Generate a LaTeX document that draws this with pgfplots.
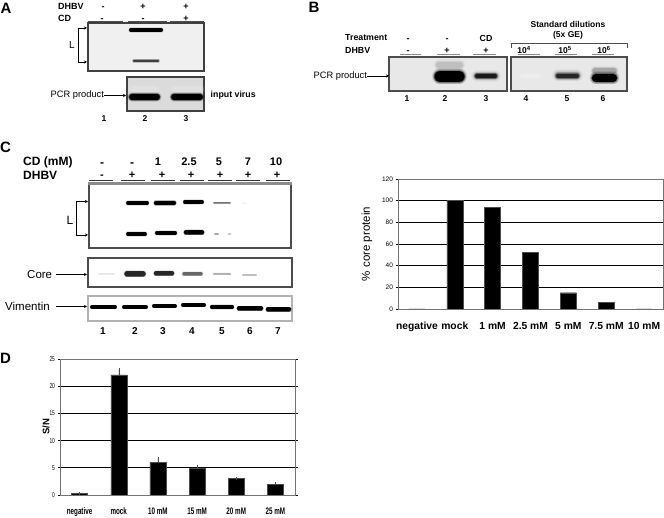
\documentclass[border=0pt]{standalone}
\usepackage{fontspec}
\setmainfont{Liberation Sans}
\usepackage{graphicx}
\usepackage{pgfplots}
\pgfplotsset{compat=1.18}
\usetikzlibrary{arrows.meta}

\newcommand{\fs}[1]{\fontsize{#1}{#1}\selectfont}
% all of the gel panels sit on one hidden axis, in reference pixels
\newcommand{\gel}[6]{% x1 y1 x2 y2 fill border
  \addplot[fill=#5,draw=#6,line width=1.1pt,forget plot] coordinates {(#1,#2)(#3,#2)(#3,#4)(#1,#4)} -- cycle;}
\newcommand{\seg}[5]{% x1 x2 y width colour
  \addplot[draw=#5,line width=#4pt,forget plot] coordinates {(#1,#3)(#2,#3)};}
\newcommand{\band}[6]{% x1 x2 y thick colour halo
  \addplot[draw=#5,opacity=.1,line width=#4pt+#6pt,line cap=round,forget plot] coordinates {(#1,#3)(#2,#3)};
  \addplot[draw=#5,opacity=.18,line width=#4pt+.7*#6pt,line cap=round,forget plot] coordinates {(#1,#3)(#2,#3)};
  \addplot[draw=#5,opacity=.3,line width=#4pt+.4*#6pt,line cap=round,forget plot] coordinates {(#1,#3)(#2,#3)};
  \addplot[draw=#5,opacity=.5,line width=#4pt+.15*#6pt,line cap=round,forget plot] coordinates {(#1,#3)(#2,#3)};
  \addplot[draw=#5,line width=#4pt,line cap=round,forget plot] coordinates {(#1,#3)(#2,#3)};}
\newcommand{\arr}[3]{% x1 x2 y
  \addplot[draw=black,line width=.6pt,-{Stealth[length=3pt,width=3pt]},forget plot] coordinates {(#1,#3)(#2,#3)};}
\newcommand{\lab}[3]{\node[inner sep=0pt,anchor=center] at (axis cs:#1,#2) {#3\vphantom{0}};}
\newcommand{\labl}[3]{\node[inner sep=0pt,anchor=west] at (axis cs:#1,#2) {#3};}

\begin{document}
\begin{tikzpicture}

\begin{axis}[
  at={(0pt,0pt)}, anchor=south west, scale only axis,
  width=664pt, height=518pt,
  xmin=0, xmax=664, ymin=0, ymax=518, y dir=reverse,
  hide axis, clip=false,
]

  % panel A
  \lab{6}{8}{\fs{15}\bfseries A}
  \labl{58}{6.5}{\fs{9}\bfseries DHBV}
  \labl{58}{18}{\fs{9}\bfseries CD}
  \lab{103}{6.5}{\fs{9}\bfseries -}
  \lab{143}{6.5}{\fs{9}\bfseries +}
  \lab{186}{6.5}{\fs{9}\bfseries +}
  \lab{102}{18}{\fs{9}\bfseries -}
  \lab{143}{18}{\fs{9}\bfseries -}
  \lab{186}{18}{\fs{9}\bfseries +}
  \seg{88}{123}{21}{.8}{black!70}
  \seg{128}{167}{21}{.8}{black!70}
  \seg{170}{204}{21}{.8}{black!70}
  \gel{88}{23}{204}{71}{black!6}{black!75}
  \band{131}{161}{30}{3.5}{black}{2}
  \band{134}{158}{61}{2}{black!75}{2.5}
  \addplot[draw=black,line width=.6pt,{Stealth[length=3pt,width=3pt]}-{Stealth[length=3pt,width=3pt]},forget plot]
    coordinates {(87,28)(78,28)(78,62)(87,62)};
  \lab{72}{45}{\fs{10}L}
  \gel{127}{77}{204}{111}{black!14}{black!75}
  \band{133}{156}{89}{6}{black!12}{5}
  \band{175}{199}{89}{6}{black!12}{5}
  \band{132}{157}{97}{5.5}{black}{4}
  \band{174}{200}{97}{5.5}{black}{4}
  \labl{50.5}{95.5}{\fs{9.3}PCR product}
  \arr{104}{126}{95.5}
  \labl{210.5}{95.5}{\fs{8.8}\bfseries input virus}
  \lab{104}{119}{\fs{8.5}\bfseries 1}
  \lab{145}{119}{\fs{8.5}\bfseries 2}
  \lab{186}{119}{\fs{8.5}\bfseries 3}

  % panel B
  \lab{314}{7}{\fs{15}\bfseries B}
  \labl{345}{38}{\fs{8.8}\bfseries Treatment}
  \labl{345}{50}{\fs{8.8}\bfseries DHBV}
  \lab{408}{38}{\fs{9}\bfseries -}
  \lab{447}{38}{\fs{9}\bfseries -}
  \lab{486}{38}{\fs{8.8}\bfseries CD}
  \lab{408}{50}{\fs{9}\bfseries -}
  \lab{447}{50}{\fs{9}\bfseries +}
  \lab{486}{50}{\fs{9}\bfseries +}
  \lab{568}{24}{\fs{8.5}\bfseries Standard dilutions}
  \lab{568}{35.5}{\fs{8.5}\bfseries (5x GE)}
  \addplot[draw=black!70,line width=.7pt,forget plot] coordinates {(511,48)(511,43)(627,43)(627,48)};
  \lab{524}{50}{\fs{8.5}\bfseries 10\textsuperscript{4}}
  \lab{565}{50}{\fs{8.5}\bfseries 10\textsuperscript{5}}
  \lab{604}{50}{\fs{8.5}\bfseries 10\textsuperscript{6}}
  \seg{400}{421}{54.5}{1.4}{black!45}
  \seg{437}{460}{54.5}{1.4}{black!45}
  \seg{473}{496}{54.5}{1.4}{black!45}
  \seg{518}{540}{54.5}{1.4}{black!45}
  \seg{555}{577}{54.5}{1.4}{black!45}
  \seg{592}{614}{54.5}{1.4}{black!45}
  \gel{389}{57}{507}{91}{black!9}{black!70}
  \gel{511}{57}{627}{91}{black!9}{black!70}
  \band{439}{460}{65}{6}{black!25}{5}
  \band{440}{459}{76.5}{11}{black}{5}
  \band{477}{495}{76}{6}{black!35}{6}
  \band{477}{495}{76}{3.5}{black!90}{4}
  \band{522}{539}{76}{4}{black!7}{5}
  \band{558}{577}{75.5}{6}{black!35}{6}
  \band{558}{577}{76}{3.5}{black!85}{4}
  \band{595}{614}{71}{5}{black!35}{5}
  \band{596}{613}{78}{8}{black}{5}
  \labl{313.5}{76}{\fs{9.3}PCR product}
  \arr{367}{389}{76}
  \lab{407}{99}{\fs{8.5}\bfseries 1}
  \lab{445}{99}{\fs{8.5}\bfseries 2}
  \lab{486}{99}{\fs{8.5}\bfseries 3}
  \lab{526}{99}{\fs{8.5}\bfseries 4}
  \lab{567}{99}{\fs{8.5}\bfseries 5}
  \lab{603}{99}{\fs{8.5}\bfseries 6}

  % panel C, blots
  \lab{5.5}{147}{\fs{15}\bfseries C}
  \labl{23}{162}{\fs{12}\bfseries CD (mM)}
  \labl{23}{175.5}{\fs{12}\bfseries DHBV}
  \lab{102}{162}{\fs{12}\bfseries -}
  \lab{132}{162}{\fs{12}\bfseries -}
  \lab{158}{162}{\fs{11}\bfseries 1}
  \lab{189}{162}{\fs{11}\bfseries 2.5}
  \lab{219}{162}{\fs{11}\bfseries 5}
  \lab{248}{162}{\fs{11}\bfseries 7}
  \lab{276}{162}{\fs{11}\bfseries 10}
  \lab{102}{175}{\fs{11}\bfseries -}
  \lab{132}{175}{\fs{11}\bfseries +}
  \lab{162}{175}{\fs{11}\bfseries +}
  \lab{191}{175}{\fs{11}\bfseries +}
  \lab{220}{175}{\fs{11}\bfseries +}
  \lab{248}{175}{\fs{11}\bfseries +}
  \lab{277}{175}{\fs{11}\bfseries +}
  \seg{89}{113}{180}{.8}{black!80}
  \seg{121}{145}{180}{.8}{black!80}
  \seg{151}{175}{180}{.8}{black!80}
  \seg{180}{204}{180}{.8}{black!80}
  \seg{208}{232}{180}{.8}{black!80}
  \seg{236}{260}{180}{.8}{black!80}
  \seg{266}{290}{180}{.8}{black!80}
  \gel{89}{183}{291}{248}{white}{black!70}
  \seg{88}{292}{183.5}{2.4}{black!45}
  \band{128}{147}{203}{3.3}{black}{2}
  \band{156}{174}{203}{3.8}{black}{2}
  \band{185}{202}{202}{3.3}{black}{2}
  \band{214}{230}{203}{1}{black!55}{1.5}
  \band{243}{246}{203}{.5}{black!8}{.5}
  \band{128}{145}{234}{3.3}{black}{2}
  \band{157}{175}{233}{3.5}{black}{2}
  \band{186}{202}{232.5}{4}{black}{2}
  \band{215}{218}{234}{1.2}{black!35}{1}
  \band{228.5}{230.5}{234}{1.2}{black!20}{1}
  \gel{88}{258}{292}{287}{white}{black!70}
  \band{99}{114}{274}{1}{black!10}{1}
  \band{127}{143}{274}{5}{black!85}{2}
  \band{156}{172}{273.5}{4}{black!85}{2}
  \band{184}{201}{274}{3}{black!60}{2}
  \band{214}{230}{274}{1.5}{black!30}{1.5}
  \band{243}{256}{275}{1.2}{black!25}{1}
  \gel{88}{296}{292}{321}{white}{black!30}
  \band{92}{115}{307}{3.4}{black}{1.5}
  \band{124}{146}{307}{3.4}{black}{1.5}
  \band{154}{175}{306}{3.4}{black}{1.5}
  \band{183}{204}{305}{3.4}{black}{1.5}
  \band{212}{232}{307}{3.6}{black}{1.5}
  \band{239}{261}{308.5}{4}{black}{1.5}
  \band{268}{289}{309.5}{4}{black}{1.5}
  \addplot[draw=black,line width=.7pt,{Stealth[length=3pt,width=3pt]}-{Stealth[length=3pt,width=3pt]},forget plot]
    coordinates {(88,201.5)(76,201.5)(76,235)(88,235)};
  \lab{70}{220}{\fs{12}L}
  \labl{27}{275}{\fs{11.5}Core}
  \arr{56}{87}{274.5}
  \labl{5}{306.5}{\fs{11.5}Vimentin}
  \arr{56}{87}{306.5}
  \lab{103}{331}{\fs{10}\bfseries 1}
  \lab{135}{331}{\fs{10}\bfseries 2}
  \lab{163}{331}{\fs{10}\bfseries 3}
  \lab{192}{331}{\fs{10}\bfseries 4}
  \lab{222}{331}{\fs{10}\bfseries 5}
  \lab{250}{331}{\fs{10}\bfseries 6}
  \lab{278}{331}{\fs{10}\bfseries 7}

  % panel D letter
  \lab{5.5}{358}{\fs{15}\bfseries D}
\end{axis}

% panel C, % core protein
\begin{axis}[
  at={(398pt,209pt)}, anchor=south west, scale only axis,
  width=265pt, height=130pt,
  ybar, bar width=16pt,
  xmin=-0.5, xmax=6.5, ymin=0, ymax=120,
  axis line style={draw=black!55,line width=.8pt},
  ymajorgrids, grid style={draw=black,line width=.75pt},
  ytick={0,20,...,120},
  xtick={0,...,6},
  xticklabels={negative,mock,1 mM,2.5 mM,5 mM,7.5 mM,10 mM},
  minor xtick={-0.5,0.5,...,6.5},
  tick align=outside, major tick length=2.5pt, minor tick length=2.5pt,
  xtick style={draw=none},
  minor tick style={draw=black,line width=.6pt},
  ytick style={draw=black,line width=.6pt},
  x tick label style={font=\fs{10.3}\bfseries, yshift=-7pt},
  y tick label style={font=\fs{6.5}, xshift=1pt},
  /pgf/number format/assume math mode=true,
  ylabel={\fs{11.5}\% core protein},
  ylabel shift=3pt,
]
  \addplot[fill=black,draw=black!70,line width=.4pt] coordinates {
    (0,0) (1,100) (2,94) (3,52) (4,15) (5,6) (6,0)};
\end{axis}

% panel D, S/N
\begin{axis}[
  at={(60pt,23pt)}, anchor=south west, scale only axis,
  width=235pt, height=136pt,
  ybar, bar width=16pt,
  xmin=-0.5, xmax=5.5, ymin=0, ymax=25,
  axis line style={draw=black!55,line width=.8pt},
  ymajorgrids, grid style={draw=black,line width=.75pt},
  ytick={0,5,...,25},
  yticklabels={\scalebox{.7}[1]{0},\scalebox{.7}[1]{5},\scalebox{.7}[1]{10},\scalebox{.7}[1]{15},\scalebox{.7}[1]{20},\scalebox{.7}[1]{25}},
  xtick={0,...,5},
  xticklabels={\scalebox{.66}[1]{negative},\scalebox{.66}[1]{mock},\scalebox{.66}[1]{10 mM},\scalebox{.66}[1]{15 mM},\scalebox{.66}[1]{20 mM},\scalebox{.66}[1]{25 mM}},
  minor xtick={-0.5,0.5,...,5.5},
  tick align=outside, major tick length=2.5pt, minor tick length=2.5pt,
  xtick style={draw=none},
  minor tick style={draw=black,line width=.6pt},
  ytick style={draw=black,line width=.6pt},
  x tick label style={font=\fs{9.5}\bfseries, yshift=-7pt},
  y tick label style={font=\fs{7}, xshift=1pt},
  ylabel={\fs{9.5}\bfseries S/N},
  ylabel shift=-7pt,
]
  \addplot[fill=black,draw=black!70,line width=.4pt,
    error bars/.cd, y dir=plus, y explicit,
    error bar style={draw=black!70,line width=.5pt}, error mark options={draw=black!70,mark size=1.2pt}]
    coordinates {
    (0,0.3) +- (0,0)
    (1,22.1) +- (0,1)
    (2,6) +- (0,0.75)
    (3,5) +- (0,0.3)
    (4,3) +- (0,0)
    (5,2) +- (0,0.2)};
\end{axis}

\pgfresetboundingbox
\path[use as bounding box] (0pt,0pt) rectangle (664pt,518pt);
\end{tikzpicture}
\end{document}
